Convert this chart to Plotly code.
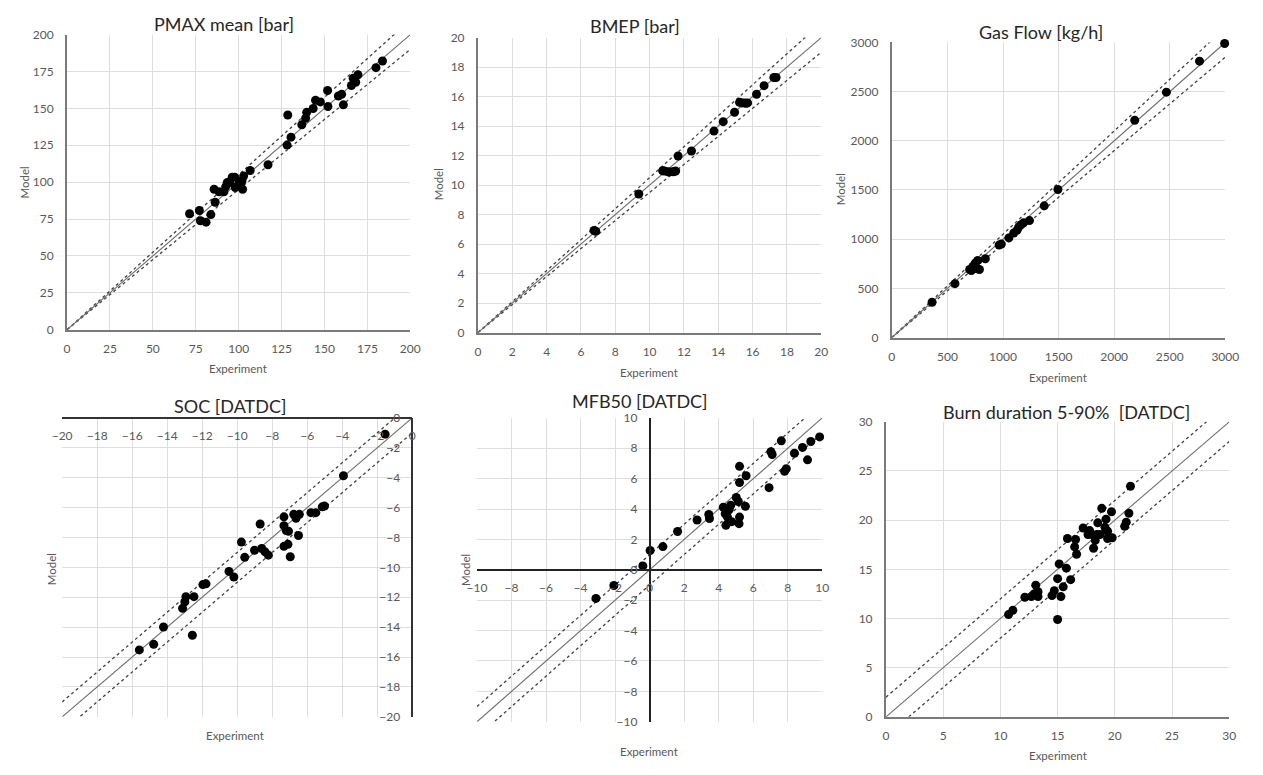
import plotly.graph_objects as go

W, H = 1263, 775          # reference picture size
OFF = 8                   # default page body margin in the written html
FW, FH = W - 2 * OFF, H - 2 * OFF

# ---------------- data (Experiment vs Model) ----------------
pmax_exp = [71.4, 77.1, 77.7, 81.0, 83.8, 85.7, 86.3, 88.6, 91.4, 92.4, 93.3, 94.7, 96.2, 97.7, 98.0,
            100.0, 101.9, 102.3, 102.9, 106.7, 117.1, 128.2, 128.6, 130.5, 136.8, 139.0, 139.6,
            143.4, 144.8, 147.6, 151.8, 152.0, 158.1, 160.0, 161.0, 165.7, 166.7, 168.2, 169.5,
            180.0, 183.8]
pmax_mod = [78.6, 80.8, 73.8, 72.9, 78.0, 95.2, 86.4, 93.5, 93.5, 96.8, 99.7, 99.7, 103.4, 103.4, 96.3,
            98.6, 100.8, 95.2, 104.1, 107.9, 111.8, 125.1, 145.5, 130.5, 138.9, 143.3, 147.3,
            149.9, 155.5, 154.4, 162.1, 151.3, 158.4, 159.5, 152.4, 165.5, 170.5, 167.7, 172.8,
            177.6, 182.1]

bmep_exp = [6.76, 6.86, 9.37, 10.76, 10.86, 11.05, 11.14, 11.33, 11.43, 11.52, 11.66, 12.44, 13.75,
            14.29, 14.95, 15.24, 15.38, 15.52, 15.62, 15.71, 16.23, 16.67, 17.24, 17.37]
bmep_mod = [6.92, 6.87, 9.40, 10.97, 10.95, 10.91, 10.88, 10.91, 10.91, 10.95, 11.97, 12.31, 13.66,
            14.30, 14.94, 15.61, 15.57, 15.57, 15.55, 15.57, 16.16, 16.74, 17.29, 17.29]

gas_exp = [362, 568, 700, 715, 729, 750, 768, 773, 788, 841, 965, 985, 1053, 1097, 1126, 1141,
           1162, 1185, 1238, 1371, 1494, 2185, 2470, 2768, 2994]
gas_mod = [359, 548, 691, 681, 724, 757, 698, 784, 691, 801, 940, 950, 1013, 1063, 1090, 1123,
           1146, 1166, 1189, 1339, 1505, 2209, 2495, 2810, 2990]

soc_exp = [-15.59, -14.77, -14.21, -13.12, -12.99, -12.93, -12.47, -12.56, -11.96, -11.78, -10.47,
           -10.19, -9.76, -9.57, -9.01, -8.69, -8.60, -8.41, -8.22, -7.33, -7.33, -7.20, -7.07,
           -7.33, -7.10, -6.97, -6.77, -6.64, -6.45, -6.50, -5.79, -5.51, -5.14, -5.01, -3.93, -1.55]
soc_mod = [-15.52, -15.15, -13.99, -12.74, -12.31, -11.96, -11.96, -14.54, -11.15, -11.10, -10.27,
           -10.64, -8.31, -9.33, -8.85, -7.10, -8.74, -8.96, -9.18, -6.62, -7.21, -7.54, -7.58,
           -8.59, -8.46, -9.29, -6.45, -6.71, -6.45, -7.87, -6.34, -6.34, -5.95, -5.90, -3.87, -1.09]

mfb_exp = [-3.11, -2.07, -0.39, 0.03, 0.77, 1.62, 2.75, 3.43, 3.47, 4.27, 4.42, 4.38, 4.51, 4.61,
           4.70, 4.76, 5.02, 5.14, 5.18, 5.21, 5.21, 5.21, 5.55, 5.59, 6.92, 7.03, 7.10, 7.63,
           7.82, 7.92, 8.39, 8.86, 9.15, 9.34, 9.85]
mfb_mod = [-1.88, -1.03, 0.26, 1.27, 1.53, 2.52, 3.28, 3.64, 3.38, 4.12, 2.93, 3.69, 3.47, 3.97,
           4.25, 3.17, 4.76, 4.50, 3.04, 3.47, 6.81, 5.75, 4.18, 6.19, 5.41, 7.78, 7.59, 8.49,
           6.49, 6.66, 7.67, 8.06, 7.24, 8.45, 8.75]

burn_exp = [10.71, 11.09, 12.14, 12.71, 12.94, 13.09, 13.29, 13.29, 14.51, 14.71, 15.00, 15.00,
            15.14, 15.29, 15.49, 15.77, 15.86, 16.14, 16.49, 16.57, 16.66, 17.23, 17.66, 17.80,
            18.00, 18.14, 18.29, 18.43, 18.51, 18.71, 18.86, 19.14, 19.23, 19.37, 19.37, 19.71,
            19.77, 20.86, 21.00, 21.23, 21.37]
burn_mod = [10.40, 10.83, 12.16, 12.23, 12.49, 13.39, 12.72, 12.23, 12.33, 12.82, 14.05, 9.90,
            15.55, 12.23, 13.22, 15.12, 18.14, 13.95, 17.28, 18.04, 16.54, 19.20, 18.54, 18.94,
            18.54, 17.14, 17.94, 18.54, 19.73, 18.54, 21.20, 19.27, 20.10, 18.87, 18.14, 20.86,
            18.21, 19.37, 19.80, 20.70, 23.45]

titles = ["PMAX mean [bar]", "BMEP [bar]", "Gas Flow [kg/h]", "SOC [DATDC]", "MFB50 [DATDC]",
          "Burn duration 5-90% \u00a0[DATDC]"]
axis_ranges = [[0, 200], [0, 20], [0, 3000], [-20, 0], [-10, 10], [0, 30]]
tick_steps = [25, 2, 500, 2, 2, 5]
band_kind = ["pct", "pct", "pct", "abs", "abs", "abs"]
band_size = [0.05, 0.05, 0.05, 1, 1, 2]
exp_data = [pmax_exp, bmep_exp, gas_exp, soc_exp, mfb_exp, burn_exp]
mod_data = [pmax_mod, bmep_mod, gas_mod, soc_mod, mfb_mod, burn_mod]

# ---------------- layout geometry (reference pixels) ----------------
boxes = [(58, 27, 408, 328), (477, 30, 827, 331), (899, 35, 1239, 336),
         (53, 418, 410, 723), (476, 418, 828, 728), (893, 422, 1243, 723)]
title_pos = [(218, 16), (637, 18), (1051, 24), (224, 406), (642, 401), (1077, 412)]
xtitle_pos = [(232, 368), (651, 372), (1068, 377), (229, 742), (651, 758), (1068, 762)]
ytitle_pos = [(15, 178), (437, 180), (847, 185), (43, 572), (465, 573), None]
axis_style = ["normal", "normal", "normal", "topright", "center", "normal"]

FONT = "Lato, 'Open Sans', sans-serif"
TICKC = "#595959"
GRID = "#dedede"


def px(x):
    return (x - OFF) / FW


def py(y):
    return 1 - (y - OFF) / FH


fig = go.Figure()
layout = dict(width=FW, height=FH, margin=dict(l=0, r=0, t=0, b=0), showlegend=False,
              paper_bgcolor="white", plot_bgcolor="white", annotations=[])

for i in range(6):
    n = i + 1
    xa, ya = f"x{n}", f"y{n}"
    lo, hi = axis_ranges[i]
    t = band_size[i]
    lx = [lo, hi]
    if band_kind[i] == "pct":
        up = [v * (1 + t) for v in lx]
        dn = [v * (1 - t) for v in lx]
    else:
        up = [v + t for v in lx]
        dn = [v - t for v in lx]
    fig.add_trace(go.Scatter(x=lx, y=up, mode="lines", xaxis=xa, yaxis=ya,
                             line=dict(color="#404040", width=1.3, dash="3px,3px"), hoverinfo="skip"))
    fig.add_trace(go.Scatter(x=lx, y=dn, mode="lines", xaxis=xa, yaxis=ya,
                             line=dict(color="#404040", width=1.3, dash="3px,3px"), hoverinfo="skip"))
    fig.add_trace(go.Scatter(x=lx, y=lx, mode="lines", xaxis=xa, yaxis=ya,
                             line=dict(color="#6e6e6e", width=1.1), hoverinfo="skip"))
    fig.add_trace(go.Scatter(x=exp_data[i], y=mod_data[i], mode="markers", xaxis=xa, yaxis=ya,
                             cliponaxis=False,
                             marker=dict(color="black", size=9, line=dict(width=0))))

    x0, y0, x1, y1 = boxes[i]
    xdom = [px(x0), px(x1)]
    ydom = [py(y1), py(y0)]
    common = dict(range=[lo, hi], dtick=tick_steps[i], tick0=lo, showgrid=True, gridcolor=GRID,
                  gridwidth=1, zeroline=False, ticks="", fixedrange=True,
                  tickfont=dict(family=FONT, size=12, color=TICKC), showline=True)
    xax = dict(common, domain=xdom)
    yax = dict(common, domain=ydom)
    st = axis_style[i]
    if st == "normal":
        xax.update(anchor=ya, side="bottom", linecolor="#7a7a7a", linewidth=2, ticklabelstandoff=7)
        yax.update(anchor=xa, side="left", linecolor="#7a7a7a", linewidth=2, ticklabelstandoff=9)
    elif st == "topright":
        xax.update(anchor="free", position=ydom[1], side="bottom", linecolor="#333333",
                   linewidth=1.5, ticklabelstandoff=7)
        yax.update(anchor="free", position=xdom[1], side="left", linecolor="#333333",
                   linewidth=1.5, ticklabelstandoff=9)
    else:
        xax.update(anchor="free", position=(ydom[0] + ydom[1]) / 2, side="bottom",
                   linecolor="#222222", linewidth=1.5, ticklabelstandoff=7)
        yax.update(anchor="free", position=(xdom[0] + xdom[1]) / 2, side="left",
                   linecolor="#222222", linewidth=1.5, ticklabelstandoff=9)
    layout[f"xaxis{n}"] = xax
    layout[f"yaxis{n}"] = yax

    tx, ty = title_pos[i]
    layout["annotations"].append(dict(text=titles[i], x=px(tx), y=py(ty), xref="paper", yref="paper",
                                      showarrow=False, xanchor="center", yanchor="middle",
                                      font=dict(family=FONT, size=18, color="#262626")))
    ex, ey = xtitle_pos[i]
    layout["annotations"].append(dict(text="Experiment", x=px(ex), y=py(ey), xref="paper", yref="paper",
                                      showarrow=False, xanchor="center", yanchor="middle",
                                      font=dict(family=FONT, size=11.5, color=TICKC)))
    if ytitle_pos[i] is not None:
        mx, my = ytitle_pos[i]
        layout["annotations"].append(dict(text="Model", x=px(mx), y=py(my), xref="paper", yref="paper",
                                          showarrow=False, xanchor="center", yanchor="middle", textangle=-90,
                                          font=dict(family=FONT, size=11.5, color=TICKC)))

fig.update_layout(**layout)
fig.write_html("out.html")
